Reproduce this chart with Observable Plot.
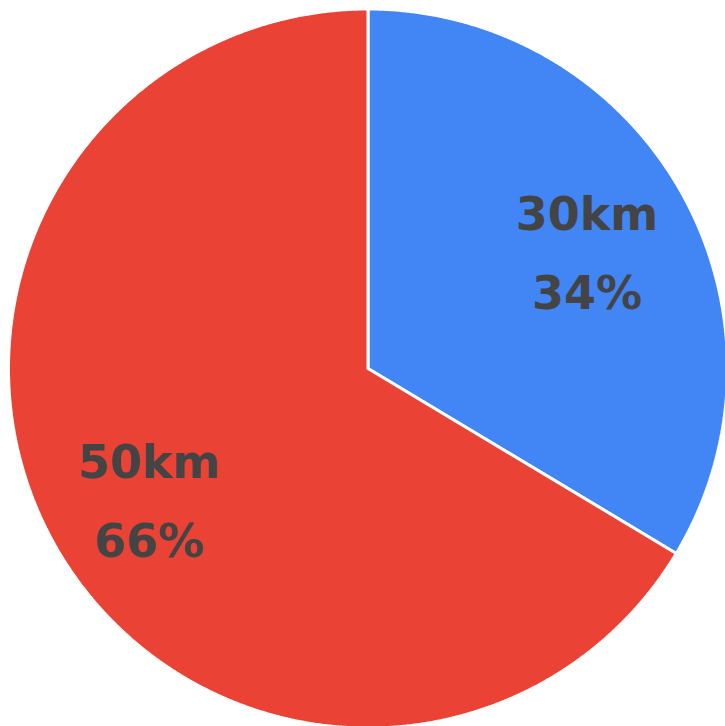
<!DOCTYPE html>
<html>
<head>
<meta charset="utf-8">
<script src="https://cdn.jsdelivr.net/npm/d3@7"></script>
<script src="https://cdn.jsdelivr.net/npm/@observablehq/plot@0.6"></script>
<style>
  html, body { margin: 0; padding: 0; background: #fff; }
  svg { display: block; }
</style>
</head>
<body>
<div id="chart"></div>
<script>
// Data
const categories = ["30km", "50km"];
const shares = [33.6, 66.4];
const colors = ["#4285F4", "#EA4335"];

// Geometry helpers
const W = 725, H = 726;
const cx = 367.5, cy = 368, k = 359.5; // pixel centre and radius (unit circle -> pixels)

const total = d3.sum(shares);
const pie = d3.pie().sort(null).value(d => d.value)(
  categories.map((c, i) => ({ key: c, value: shares[i], color: colors[i] }))
);

// Polygon outlines of slices (unit radius)
const outline = [];
for (const s of pie) {
  const n = Math.max(2, Math.ceil((s.endAngle - s.startAngle) / (Math.PI / 720)));
  outline.push({ key: s.data.key, x: 0, y: 0 });
  for (let j = 0; j <= n; j++) {
    const a = s.startAngle + (s.endAngle - s.startAngle) * j / n;
    outline.push({ key: s.data.key, x: Math.sin(a), y: Math.cos(a) });
  }
  outline.push({ key: s.data.key, x: 0, y: 0 });
}

// Labels at mid-angle
const labelR = 0.7;
const labels = pie.map(s => {
  const a = (s.startAngle + s.endAngle) / 2;
  return {
    x: labelR * Math.sin(a),
    y: labelR * Math.cos(a),
    text: `${s.data.key}\n${Math.round(s.data.value / total * 100)}%`
  };
});

const chart = Plot.plot({
  width: W,
  height: H,
  margin: 0,
  x: { domain: [-cx / k, (W - cx) / k], range: [0, W], axis: null },
  y: { domain: [-(H - cy) / k, cy / k], range: [H, 0], axis: null },
  color: { domain: categories, range: colors },
  marks: [
    Plot.line(outline, {
      x: "x", y: "y", z: "key", fill: "key",
      stroke: "white", strokeWidth: 3, strokeLinejoin: "miter", curve: "linear"
    }),
    Plot.text(labels, {
      x: "x", y: "y", text: "text",
      fontSize: 46, fontWeight: "bold", fontFamily: "DejaVu Sans",
      fill: "#444444", lineHeight: 1.7, textAnchor: "middle"
    })
  ]
});
document.getElementById("chart").appendChild(chart);
</script>
</body>
</html>
